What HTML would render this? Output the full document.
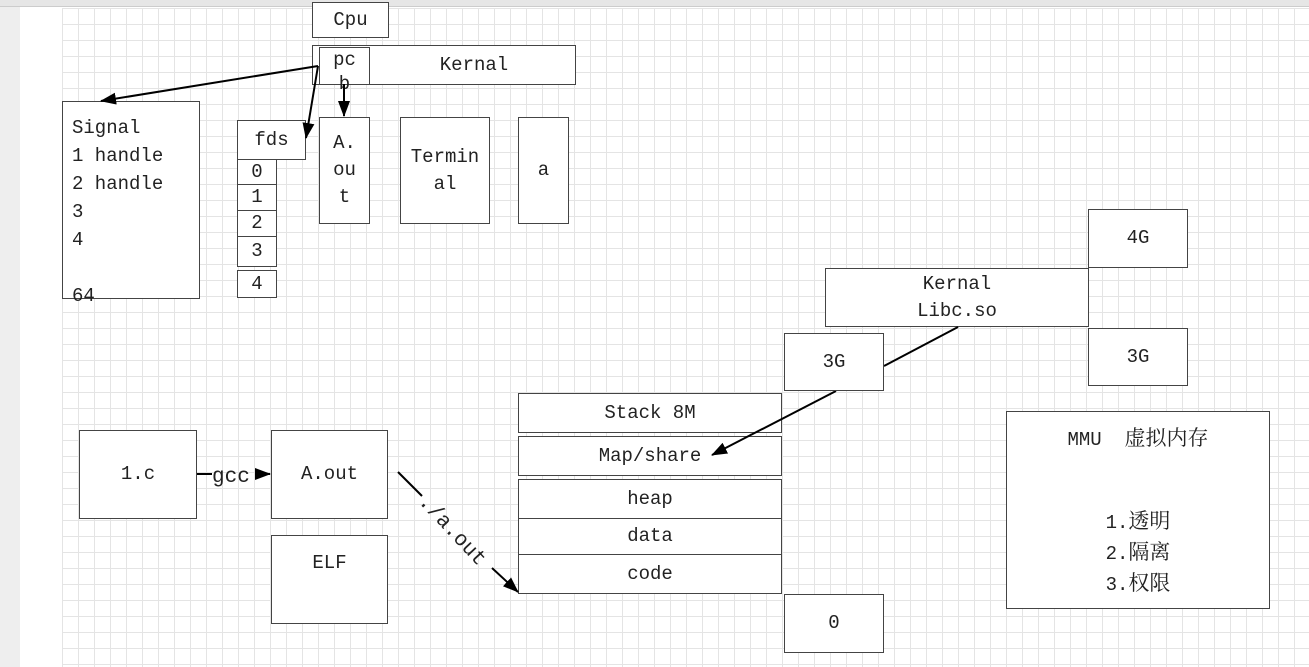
<!DOCTYPE html>
<html><head><meta charset="utf-8"><style>
body{margin:0;width:1309px;height:667px;overflow:hidden;background:#fff;position:relative;font-family:"Liberation Mono","Noto Serif CJK SC",monospace;color:#222}
#lm{position:absolute;left:0;top:0;width:20px;height:667px;background:#eee}
#ruler{position:absolute;left:0;top:0;width:1309px;height:6px;background:#e6e6e6;border-bottom:1px solid #ccc}
#grid{position:absolute;left:62px;top:8px;width:1247px;height:659px;
background-image:linear-gradient(#e4e4e4 1px,transparent 1px),linear-gradient(90deg,#e4e4e4 1px,transparent 1px);background-size:16px 16px}
.b{position:absolute;background:#fff;border:1px solid #444;box-sizing:border-box;display:flex;align-items:center;justify-content:center;text-align:center;font-size:19px;line-height:27px}
.cj{font-family:"Noto Serif CJK SC",serif;font-size:21px}
svg{position:absolute;left:0;top:0}
</style></head><body>
<div id="lm"></div><div id="ruler"></div><div id="grid"></div>
<div class="b" style="left:312px;top:2px;width:77px;height:36px">Cpu</div>
<div class="b" style="left:312px;top:45px;width:264px;height:40px;padding-left:60px">Kernal</div>
<div class="b" style="left:319px;top:47px;width:51px;height:38px;line-height:24px;align-items:flex-start">pc<br>b</div>
<div class="b" style="left:62px;top:101px;width:138px;height:198px;justify-content:flex-start;align-items:flex-start;text-align:left;padding:12px 0 0 9px;line-height:28px">Signal<br>1 handle<br>2 handle<br>3<br>4<br><br>64</div>
<div class="b" style="left:237px;top:120px;width:69px;height:40px">fds</div>
<div class="b" style="left:237px;top:159px;width:40px;height:26px">0</div>
<div class="b" style="left:237px;top:184px;width:40px;height:27px">1</div>
<div class="b" style="left:237px;top:210px;width:40px;height:27px">2</div>
<div class="b" style="left:237px;top:236px;width:40px;height:31px">3</div>
<div class="b" style="left:237px;top:270px;width:40px;height:28px">4</div>
<div class="b" style="left:319px;top:117px;width:51px;height:107px">A.<br>ou<br>t</div>
<div class="b" style="left:400px;top:117px;width:90px;height:107px">Termin<br>al</div>
<div class="b" style="left:518px;top:117px;width:51px;height:107px">a</div>
<div class="b" style="left:1088px;top:209px;width:100px;height:59px">4G</div>
<div class="b" style="left:825px;top:268px;width:264px;height:59px">Kernal<br>Libc.so</div>
<div class="b" style="left:1088px;top:328px;width:100px;height:58px">3G</div>
<div class="b" style="left:518px;top:393px;width:264px;height:40px">Stack 8M</div>
<div class="b" style="left:518px;top:436px;width:264px;height:40px">Map/share</div>
<div class="b" style="left:518px;top:479px;width:264px;height:40px">heap</div>
<div class="b" style="left:518px;top:518px;width:264px;height:37px">data</div>
<div class="b" style="left:518px;top:554px;width:264px;height:40px">code</div>
<div class="b" style="left:784px;top:594px;width:100px;height:59px">0</div>
<div class="b" style="left:1006px;top:411px;width:264px;height:198px;flex-direction:column;justify-content:flex-start;padding-top:12px"><div>MMU&nbsp;&nbsp;<span class="cj">虚拟内存</span></div><div style="margin-top:52px;line-height:28px">1.<span class="cj">透明</span><br>2.<span class="cj">隔离</span><br>3.<span class="cj">权限</span></div></div>
<div class="b" style="left:79px;top:430px;width:118px;height:89px">1.c</div>
<div class="b" style="left:271px;top:430px;width:117px;height:89px;align-items:flex-start;padding-top:30px">A.out</div>
<div class="b" style="left:271px;top:535px;width:117px;height:89px;align-items:flex-start;padding-top:14px">ELF</div>
<svg width="1309" height="667">
<defs><marker id="b" markerWidth="16" markerHeight="12" refX="15" refY="6" orient="auto" markerUnits="userSpaceOnUse"><path d="M0,0L16,6L0,12z" fill="#000"/></marker></defs>
<g stroke="#000" stroke-width="2" fill="none">
<line x1="318" y1="66" x2="101" y2="101" marker-end="url(#b)"/>
<line x1="318" y1="66" x2="306" y2="138" marker-end="url(#b)"/>
<line x1="344" y1="84" x2="344" y2="116" marker-end="url(#b)"/>
<line x1="197" y1="474" x2="212" y2="474"/>
<line x1="256" y1="474" x2="270" y2="474" marker-end="url(#b)"/>
<line x1="958" y1="327" x2="884" y2="366"/>
<line x1="836" y1="391" x2="712" y2="455" marker-end="url(#b)"/>
<line x1="398" y1="472" x2="422" y2="496"/>
<line x1="492" y1="568" x2="518" y2="592" marker-end="url(#b)"/>
</g>
<text x="212" y="482" font-family="Liberation Mono" font-size="21" fill="#222">gcc</text>
<text x="0" y="0" font-family="Liberation Mono" font-size="21" fill="#222" transform="translate(418,502) rotate(47)">./a.out</text>
</svg>
<div class="b" style="left:784px;top:333px;width:100px;height:58px">3G</div>
</body></html>
